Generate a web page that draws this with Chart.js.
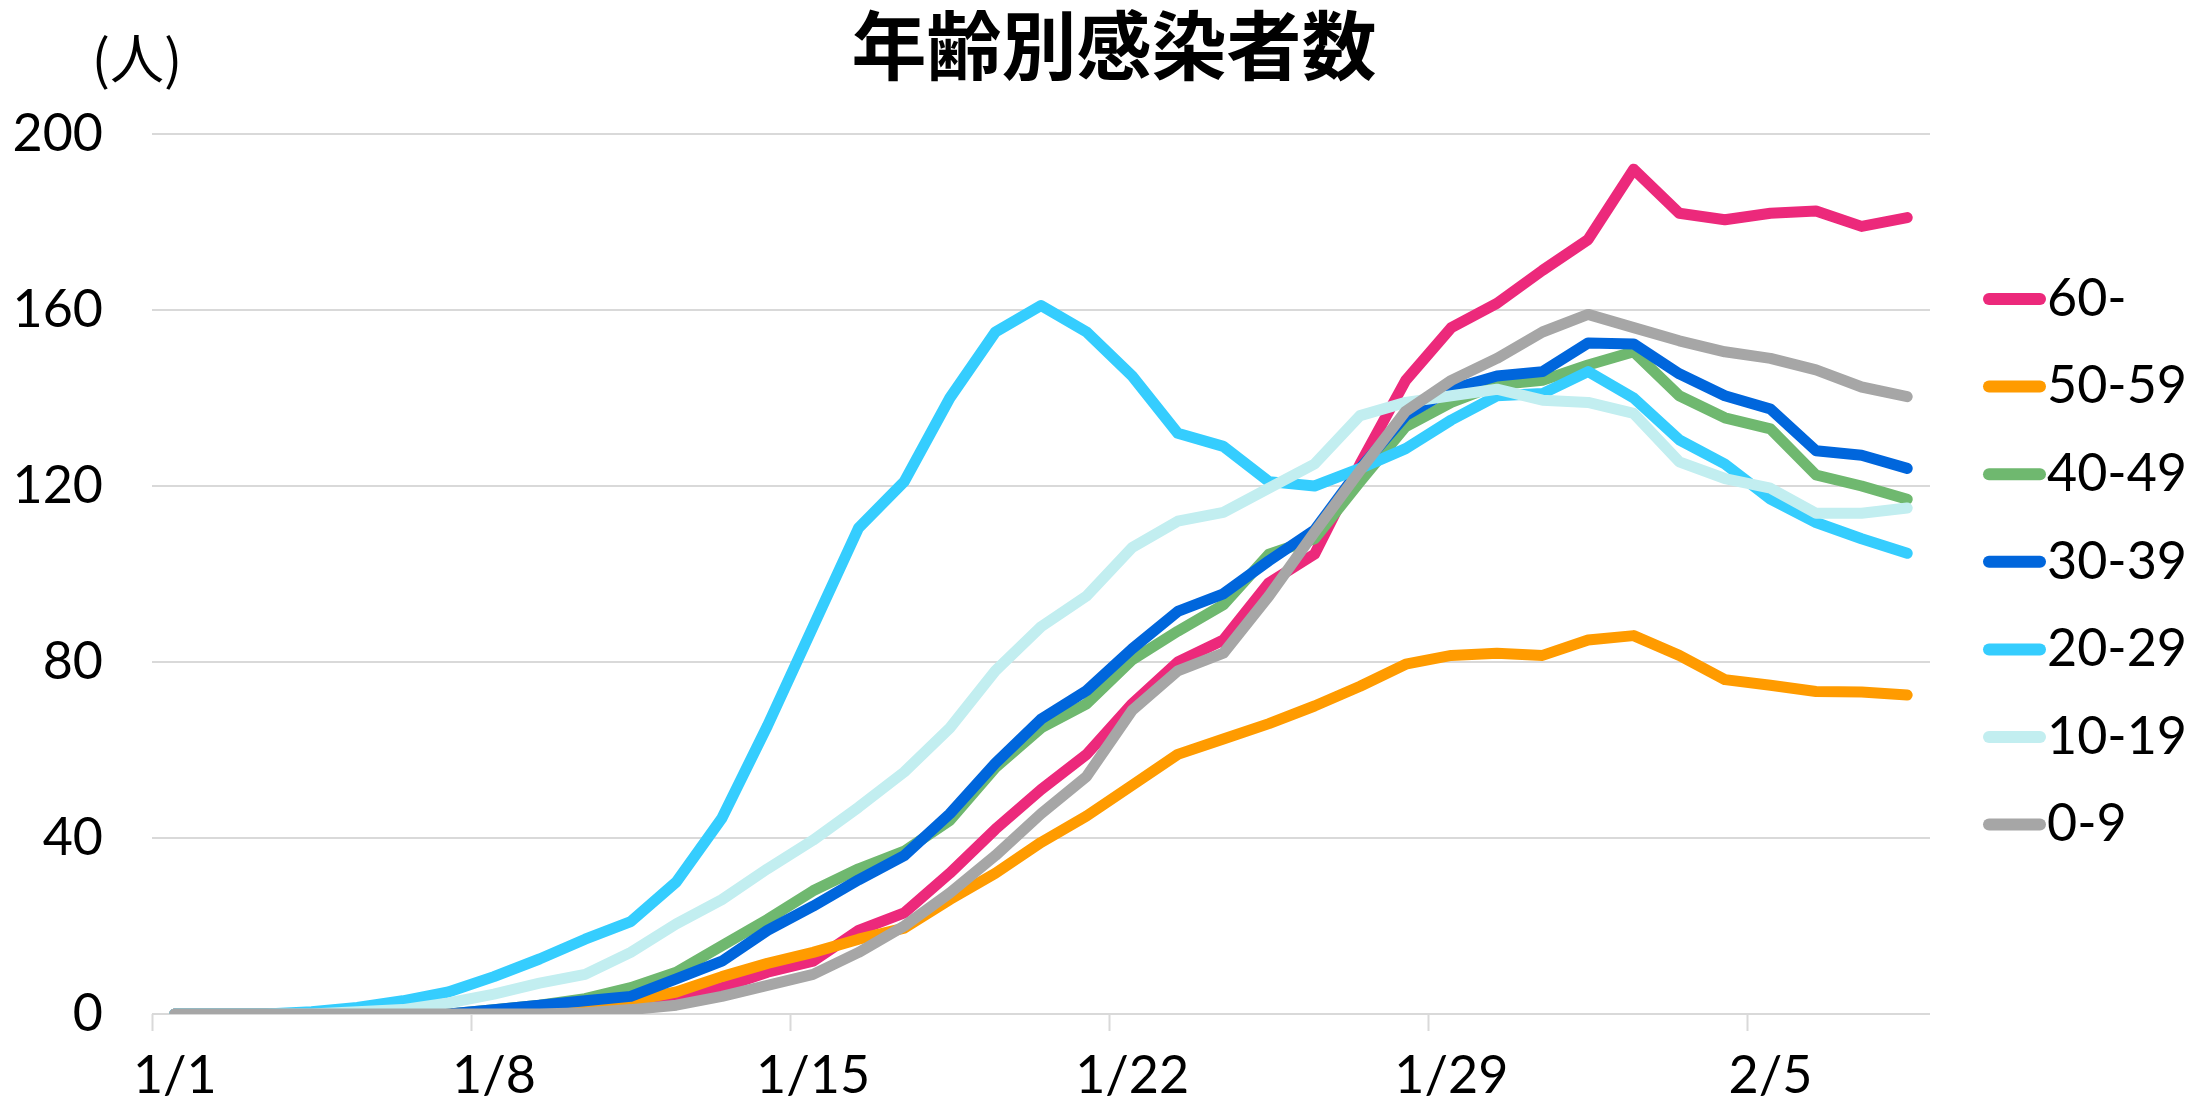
<!DOCTYPE html>
<html lang="ja">
<head>
<meta charset="utf-8">
<title>年齢別感染者数</title>
<script src="https://cdn.jsdelivr.net/npm/chart.js@4.4.1/dist/chart.umd.min.js"></script>
<style>
    html, body { margin: 0; padding: 0; background: #ffffff; }
    #chartBox { width: 2205px; height: 1108px; }
</style>
</head>
<body>
<div id="chartBox"><canvas id="myChart" width="2205" height="1108"></canvas></div>
<script>
// Dates on the x axis
const dates = [
    '1/1', '1/2', '1/3', '1/4', '1/5', '1/6', '1/7', '1/8', '1/9', '1/10',
    '1/11', '1/12', '1/13', '1/14', '1/15', '1/16', '1/17', '1/18', '1/19', '1/20',
    '1/21', '1/22', '1/23', '1/24', '1/25', '1/26', '1/27', '1/28', '1/29', '1/30',
    '1/31', '2/1', '2/2', '2/3', '2/4', '2/5', '2/6', '2/7', '2/8'
];

// Values per age group (people)
const age60 = [0, 0, 0, 0, 0, 0, 0, 0, 0.5, 1, 2, 3, 6, 9.5, 12, 19, 23, 32, 42, 51, 59, 70.5, 80, 85, 98, 104.5, 125, 144, 156, 161.5, 169, 176, 192, 182, 180.5, 182, 182.5, 179, 181];
const age50 = [0, 0, 0, 0, 0, 0, 0, 0, 0.5, 1, 3, 5, 8.5, 11.5, 14, 17, 19.5, 26, 32, 39, 45, 52, 59, 62.5, 66, 70, 74.5, 79.5, 81.5, 82, 81.5, 85, 86, 81.5, 76, 74.7, 73.3, 73.2, 72.5];
const age40 = [0, 0, 0, 0, 0, 0, 0, 1, 2, 3.5, 6, 9.5, 15.5, 21.5, 28, 33, 37, 44, 56, 65, 70.5, 80.5, 87, 93, 104.5, 108, 121, 133.5, 139, 143, 144, 147.5, 150.5, 140.5, 135.5, 133, 122.5, 120, 117];
const age30 = [0, 0, 0, 0, 0, 0, 0, 1, 2, 3, 4, 8, 12, 19, 24.5, 30.5, 36, 45.5, 57, 67, 73.5, 83, 91.5, 95.5, 103, 110, 124, 136, 142, 145, 146, 152.5, 152.3, 145.5, 140.5, 137.5, 128, 127, 124];
const age20 = [0, 0, 0, 0.5, 1.5, 3, 5, 8.5, 12.5, 17, 21, 30, 44.5, 65.5, 88, 110.5, 121, 140, 155, 161, 155, 145, 132, 129, 121, 120, 124, 128.5, 135, 140.5, 141, 146, 140, 130.5, 125, 117, 111.7, 108, 104.7];
const age10 = [0, 0, 0, 0, 0.5, 1, 2.5, 4.5, 7, 9, 14, 20.5, 26, 33, 39.5, 47, 55, 65, 78, 88, 95, 106, 112, 114, 119.5, 125, 136, 139, 140.5, 142, 139.5, 139, 136.5, 125.5, 121.7, 119.5, 113.8, 113.8, 115];
const age0 = [0, 0, 0, 0, 0, 0, 0, 0, 0, 0.3, 1, 2, 4, 6.5, 9, 14, 20, 27.5, 36, 45.5, 54, 69, 78, 82, 95, 109.5, 123.5, 137, 144, 149, 155, 159, 156, 153, 150.5, 149, 146.4, 142.5, 140.3];

const seriesNames = ['60-', '50-59', '40-49', '30-39', '20-29', '10-19', '0-9'];
const seriesValues = [age60, age50, age40, age30, age20, age10, age0];

// y axis ticks
const yMin = 0;
const yMax = 200;
const yStep = 40;

const chartTitle = '年齢別感染者数';
const unitLabel = '(人)';

const seriesColors = ['#ec297b', '#ff9b00', '#6fb86f', '#0066dc', '#35cdfe', '#c2eef0', '#a6a6a6'];
const textFont = 'Lato, "Noto Sans", sans-serif';
const cjkFont = '"Noto Sans CJK JP", sans-serif';

const datasets = seriesNames.map(function (name, i) {
    return {
        label: name,
        data: seriesValues[i],
        borderColor: seriesColors[i],
        backgroundColor: seriesColors[i],
        borderWidth: 11,
        borderCapStyle: 'round',
        borderJoinStyle: 'round',
        pointRadius: 0,
        pointHoverRadius: 0,
        tension: 0,
        fill: false,
        order: seriesNames.length - 1 - i // later groups on top, like the original
    };
});

// Title, unit and legend drawn by hand
const textPlugin = {
    id: 'textPlugin',
    afterDraw: function (chart) {
        const ctx = chart.ctx;
        ctx.save();
        ctx.fillStyle = '#000000';
        ctx.textAlign = 'center';
        ctx.textBaseline = 'middle';
        ctx.font = 'bold 75px ' + cjkFont;
        ctx.fillText(chartTitle, 1114, 45);
        ctx.font = '54px ' + cjkFont;
        ctx.fillText(unitLabel, 137, 58);

        // legend
        ctx.textAlign = 'left';
        ctx.font = '52px ' + textFont;
        seriesNames.forEach(function (name, i) {
            const y = 299 + i * 87.6;
            ctx.strokeStyle = seriesColors[i];
            ctx.lineWidth = 12;
            ctx.lineCap = 'round';
            ctx.beginPath();
            ctx.moveTo(1989, y);
            ctx.lineTo(2040, y);
            ctx.stroke();
            ctx.fillStyle = '#000000';
            ctx.fillText(name, 2047, y);
        });
        ctx.restore();
    }
};

const config = {
    type: 'line',
    data: {
        labels: dates,
        datasets: datasets
    },
    options: {
        responsive: false,
        devicePixelRatio: 1,
        animation: false,
        layout: {
            padding: { top: 134, right: 275, bottom: 0, left: 0 }
        },
        plugins: {
            legend: { display: false },
            tooltip: { enabled: false }
        },
        scales: {
            x: {
                type: 'category',
                offset: true,
                border: { display: false },
                grid: {
                    offset: true,
                    drawOnChartArea: false,
                    drawTicks: true,
                    tickLength: 17,
                    tickWidth: 2,
                    tickColor: function (ctx) {
                        return ctx.index % 7 === 0 ? '#d9d9d9' : 'rgba(0,0,0,0)';
                    }
                },
                ticks: {
                    autoSkip: false,
                    maxRotation: 0,
                    minRotation: 0,
                    padding: 14,
                    color: '#000000',
                    font: { family: textFont, size: 52 },
                    callback: function (value, index) {
                        return index % 7 === 0 ? this.getLabelForValue(value) : '';
                    }
                },
                afterFit: function (scale) { scale.height = 94; }
            },
            y: {
                min: yMin,
                max: yMax,
                border: { display: false },
                grid: { color: '#d9d9d9', lineWidth: 2, drawTicks: false },
                ticks: {
                    stepSize: yStep,
                    padding: 49,
                    color: '#000000',
                    font: { family: textFont, size: 52 }
                },
                afterFit: function (scale) { scale.width = 152; }
            }
        }
    },
    plugins: [textPlugin]
};

var myChart = new Chart(document.getElementById('myChart'), config);
</script>
</body>
</html>
